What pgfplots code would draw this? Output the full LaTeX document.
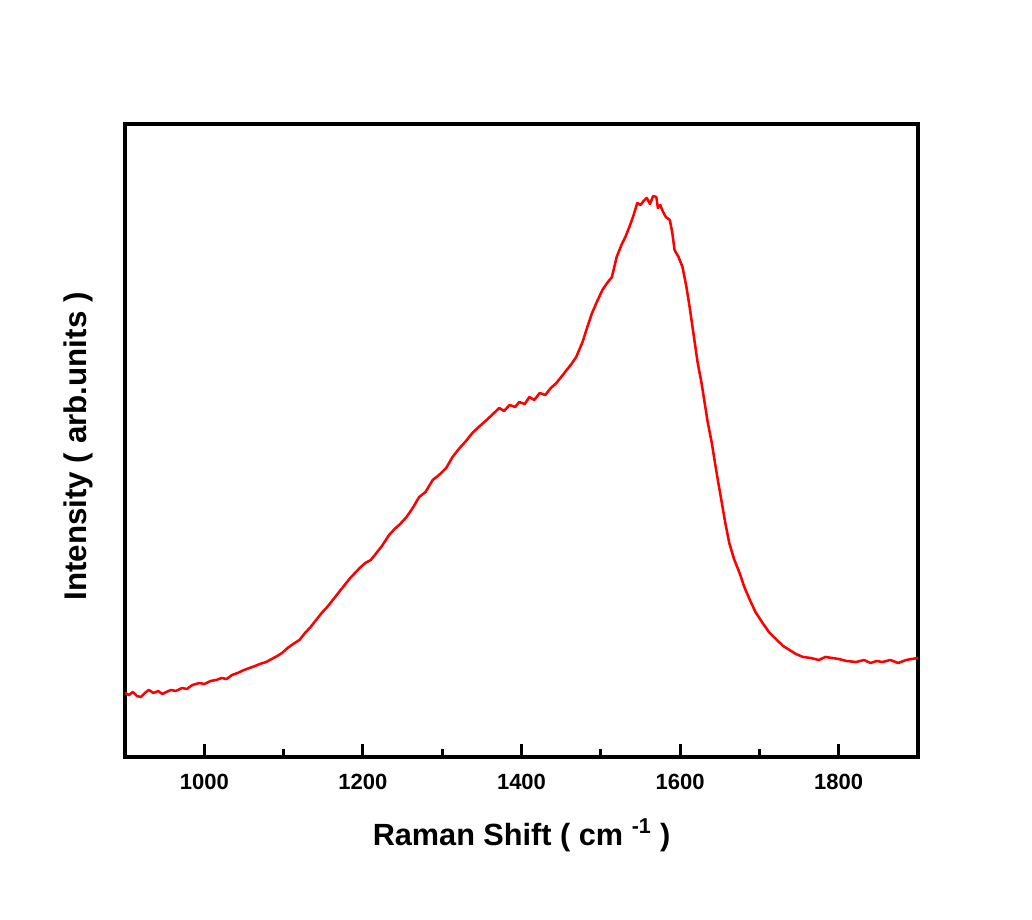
\documentclass[border=0pt]{standalone}
\usepackage{pgfplots}
\pgfplotsset{compat=1.18}
\usepackage{fontspec}
\setmainfont{Liberation Sans}

\pgfplotstableread{
x y
900 64
905 62
910 65
915 61
920 60
925 64
930 67
936 64
942 66
947 63
952 65
958 67
964 66
972 69
978 68
985 72
994 74
1000 73
1008 76
1015 77
1022 79
1028 78
1035 82
1042 84
1050 87
1057 89
1064 91
1070 93
1078 95
1085 98
1092 101
1098 104
1105 109
1112 113
1120 117
1127 124
1134 130
1141 137
1148 144
1155 150
1162 157
1170 165
1177 172
1184 179
1190 184
1196 189
1203 194
1210 197
1217 204
1224 211
1233 222
1240 228
1247 233
1255 240
1262 248
1271 260
1279 265
1288 277
1296 282
1305 289
1313 300
1322 309
1330 316
1338 324
1346 330
1356 337
1364 343
1372 349
1378 346
1385 352
1392 350
1397 355
1404 353
1410 360
1416 357
1423 364
1430 362
1437 369
1444 374
1450 380
1457 387
1463 393
1469 400
1477 415
1483 430
1489 444
1495 455
1502 467
1508 474
1514 480
1520 500
1526 512
1531 520
1536 530
1541 541
1546 554
1550 552
1554 556
1558 559
1562 553
1566 561
1570 560
1572 549
1575 552
1578 546
1582 540
1587 537
1590 525
1593 507
1598 500
1603 490
1608 470
1612 450
1618 417
1622 395
1627 374
1631 354
1635 334
1640 314
1644 294
1648 275
1652 257
1657 234
1662 214
1668 198
1675 184
1681 170
1688 157
1695 145
1704 134
1712 125
1722 117
1730 111
1738 107
1746 103
1755 100
1765 99
1775 97
1783 100
1792 99
1800 98
1810 96
1822 95
1832 97
1840 94
1848 96
1855 95
1865 97
1875 94
1885 97
1892 98
1900 99
}\spectrum

\begin{document}
\begin{tikzpicture}[x=0.75pt, y=0.75pt]
% page = reference size in px
\useasboundingbox (-125,-163) rectangle (907,757);
\begin{axis}[
    at={(0,0)}, anchor=south west,
    scale only axis,
    width=594.75pt, height=474.75pt,
    xmin=900, xmax=1900,
    ymin=0, ymax=633,
    xtick={1000,1200,1400,1600,1800},
    xticklabels={1000,1200,1400,1600,1800},
    minor x tick num=1,
    ytick=\empty,
    xtick pos=bottom,
    tick align=inside,
    major tick length=9.75pt,
    minor tick length=6pt,
    every tick/.style={black, line width=2.2pt},
    axis line style={line width=2.3pt},
    xticklabel style={font=\fontsize{16.5}{18}\selectfont\bfseries, inner sep=0pt, yshift=-12.5pt},
    xlabel={Raman Shift ( cm \textsuperscript{-1} )},
    ylabel={Intensity ( arb.units )},
    xlabel style={font=\fontsize{23}{26}\selectfont\bfseries, at={(axis description cs:0.5,0)}, anchor=base, yshift=-66.75pt},
    % label is turned: yshift moves it sideways, xshift along the axis
    ylabel style={font=\fontsize{23.5}{26}\selectfont\bfseries, at={(axis description cs:0,0.5)}, anchor=base, yshift=28.5pt, xshift=-4.5pt},
]
\addplot[red, line width=1.9pt, line join=round] table[x=x, y=y] {\spectrum};
\end{axis}
\end{tikzpicture}
\end{document}
